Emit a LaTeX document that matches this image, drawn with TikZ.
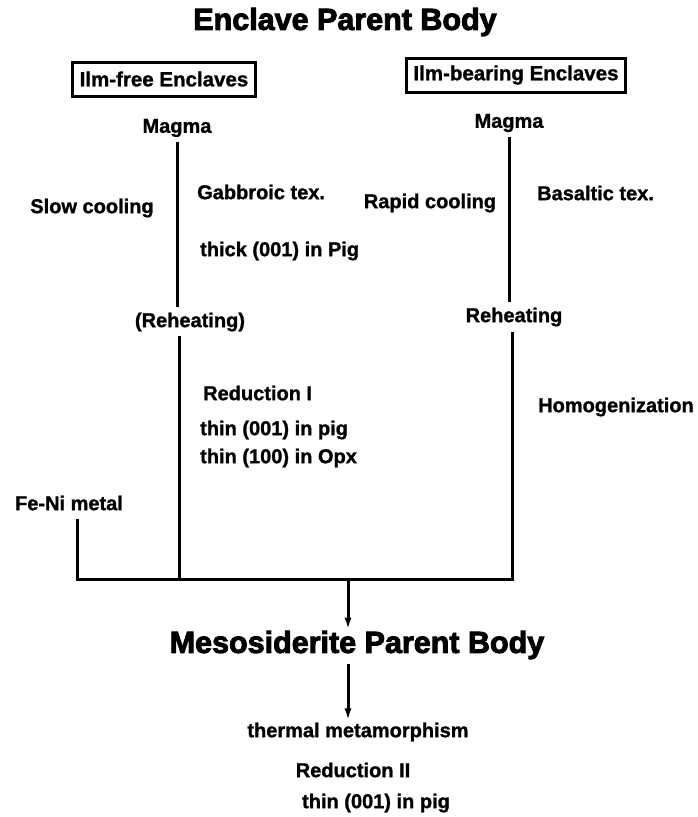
\documentclass[tikz,border=0pt]{standalone}
\usepackage{fontspec}
\setmainfont{Liberation Sans}[BoldFeatures={FakeBold=1.2}]
\newfontfamily\heavyfont{Liberation Sans}[BoldFeatures={FakeBold=3}]
\usepackage{tikz}
\usetikzlibrary{arrows.meta}

\begin{document}
\begin{tikzpicture}[x=1pt, y=-1pt,
    heading/.style={inner sep=1pt, font=\fontsize{30.5}{34}\selectfont\heavyfont\bfseries},
    note/.style={inner sep=2pt, font=\fontsize{20}{22}\selectfont\bfseries},
    enclave/.style={rectangle, draw=black, line width=3pt, inner xsep=7pt, minimum height=34pt, font=\fontsize{20.5}{22}\selectfont\bfseries},
    link/.style={line width=3pt},
    arrow/.style={line width=3pt, -{Latex[length=12pt,width=7pt]}}]

    \useasboundingbox (0,0) rectangle (698,817);

    % top of the scheme
    \node[heading] at (345,22) (enclpb) {Enclave Parent Body};
    \node[enclave] at (164,79) (ilmfree) {Ilm-free Enclaves};
    \node[enclave] at (516,75) (ilmbear) {Ilm-bearing Enclaves};

    % left branch
    \node[note] at (177,128) (magmaL) {Magma};
    \node[note] at (92,208) (slow) {Slow cooling};
    \node[note, anchor=west] at (195,192) (gabbro) {Gabbroic tex.};
    \node[note, anchor=west] at (198,251) (thick) {thick (001) in Pig};
    \node[note] at (190,322) (reheatL) {(Reheating)};
    \node[note, anchor=west] at (201,393) (redI) {Reduction I};
    \node[note, anchor=west] at (198,430) (thinpig) {thin (001) in pig};
    \node[note, anchor=west] at (198,458) (thinopx) {thin (100) in Opx};

    % right branch
    \node[note] at (509,123) (magmaR) {Magma};
    \node[note] at (430,203) (rapid) {Rapid cooling};
    \node[note, anchor=west] at (535,193) (basalt) {Basaltic tex.};
    \node[note] at (514,317) (reheatR) {Reheating};
    \node[note, anchor=west] at (536,407) (homog) {Homogenization};

    \node[note] at (69,503) (feni) {Fe-Ni metal};

    % bottom of the scheme
    \node[heading] at (357,645) (mesopb) {Mesosiderite Parent Body};
    \node[note] at (358,732) (thermal) {thermal metamorphism};
    \node[note] at (353,770) (redII) {Reduction II};
    \node[note] at (376,803) (thinpig2) {thin (001) in pig};

    \coordinate (jF) at (77,579);
    \coordinate (jL) at (179,579);
    \coordinate (jM) at (348,579);
    \coordinate (jR) at (512,579);

    \draw[link, shorten <=3pt, shorten >=3pt] (magmaL.south) -- (magmaL.south |- reheatL.north);
    \draw[link, shorten <=3pt, shorten >=3pt] (magmaR.south) -- (magmaR.south |- reheatR.north);
    \draw[link, shorten <=2pt] (reheatL.south -| jL) -- (jL);
    \draw[link, shorten <=6pt] (feni.south -| jF) -- (jF) -- (jR) -- ([yshift=-3pt]reheatR.south -| jR);
    \draw[arrow] (jM) -- (jM |- mesopb.north);
    \draw[arrow, shorten <=4pt] (mesopb.south -| jM) -- (jM |- thermal.north);
\end{tikzpicture}
\end{document}
